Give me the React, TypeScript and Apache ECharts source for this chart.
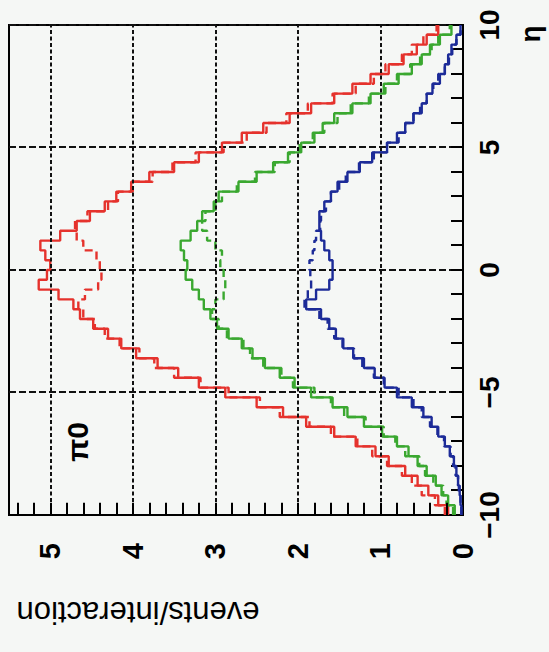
import React, { useEffect, useRef } from "react";
import * as echarts from "echarts";

// Pseudorapidity binning of the histograms (bin width 0.4, from -10 to 10)
const ETA_MIN = -10;
const ETA_MAX = 10;
const BIN_WIDTH = 0.4;

// pi0 multiplicity per unit pseudorapidity, three energy samples,
// solid = model A, dashed = model B
const redSolid = [
  0.18, 0.3, 0.42, 0.55, 0.7, 0.9, 1.06, 1.3, 1.56, 1.9,
  2.18, 2.5, 2.88, 3.2, 3.45, 3.7, 3.96, 4.14, 4.3, 4.48,
  4.64, 4.72, 4.9, 5.14, 5.04, 5.0, 5.06, 5.12, 4.88, 4.68,
  4.52, 4.34, 4.2, 4.02, 3.8, 3.5, 3.2, 2.92, 2.68, 2.42,
  2.1, 1.84, 1.56, 1.34, 1.12, 0.9, 0.72, 0.56, 0.44, 0.3,
];
const redDashed = [
  0.22, 0.34, 0.5, 0.62, 0.74, 0.92, 1.1, 1.28, 1.6, 1.86,
  2.22, 2.46, 2.84, 3.18, 3.5, 3.74, 3.92, 4.16, 4.34, 4.46,
  4.6, 4.66, 4.58, 4.42, 4.38, 4.4, 4.44, 4.6, 4.68, 4.7,
  4.55, 4.3, 4.18, 4.0, 3.76, 3.52, 3.24, 2.9, 2.62, 2.38,
  2.14, 1.88, 1.58, 1.3, 1.08, 0.94, 0.74, 0.62, 0.48, 0.32,
];
const greenSolid = [
  0.1, 0.18, 0.26, 0.33, 0.44, 0.55, 0.66, 0.8, 0.98, 1.2,
  1.4, 1.58, 1.84, 2.04, 2.22, 2.4, 2.55, 2.68, 2.84, 2.98,
  3.06, 3.14, 3.2, 3.28, 3.36, 3.34, 3.38, 3.42, 3.3, 3.22,
  3.16, 3.02, 2.96, 2.72, 2.5, 2.3, 2.12, 1.96, 1.8, 1.7,
  1.56, 1.34, 1.12, 0.96, 0.78, 0.62, 0.5, 0.4, 0.28, 0.14,
];
const greenDashed = [
  0.12, 0.2, 0.24, 0.36, 0.46, 0.53, 0.7, 0.82, 0.96, 1.18,
  1.44, 1.6, 1.8, 2.06, 2.2, 2.42, 2.58, 2.66, 2.86, 2.96,
  3.04, 3.0, 2.9, 2.88, 2.9, 2.94, 2.92, 3.0, 3.1, 3.16,
  3.12, 3.0, 2.92, 2.74, 2.52, 2.28, 2.1, 1.98, 1.82, 1.68,
  1.52, 1.36, 1.14, 0.94, 0.8, 0.64, 0.52, 0.38, 0.3, 0.16,
];
const blueSolid = [
  0.02, 0.03, 0.04, 0.06, 0.08, 0.11, 0.16, 0.22, 0.3, 0.38,
  0.48, 0.62, 0.8, 0.95, 1.07, 1.2, 1.33, 1.45, 1.54, 1.62,
  1.72, 1.9, 1.78, 1.62, 1.58, 1.58, 1.62, 1.68, 1.72, 1.74,
  1.74, 1.68, 1.6, 1.52, 1.4, 1.25, 1.1, 0.92, 0.8, 0.7,
  0.6, 0.5, 0.44, 0.37, 0.28, 0.22, 0.18, 0.14, 0.08, 0.03,
];
const blueDashed = [
  0.02, 0.03, 0.05, 0.06, 0.09, 0.12, 0.15, 0.23, 0.31, 0.4,
  0.5, 0.6, 0.78, 0.96, 1.08, 1.22, 1.32, 1.46, 1.56, 1.64,
  1.74, 1.92, 1.88, 1.84, 1.85, 1.86, 1.82, 1.8, 1.78, 1.73,
  1.72, 1.66, 1.6, 1.5, 1.42, 1.26, 1.08, 0.92, 0.78, 0.7,
  0.6, 0.52, 0.44, 0.36, 0.3, 0.22, 0.17, 0.13, 0.08, 0.03,
];

const etaTicks = [-10, -5, 0, 5, 10];
const yTicks = [0, 1, 2, 3, 4, 5];
const yGridValues = [1, 2, 3, 4, 5];
const Y_MAX = 5.5;
const Y_FINE_STEP = 0.2;
// small ticks along the multiplicity axis, every 0.2 up to the frame
const yFineTicks = Array.from(
  { length: Math.floor(Y_MAX / Y_FINE_STEP) },
  (_, i) => Math.round((i + 1) * Y_FINE_STEP * 10) / 10
);
// inward length of those ticks, in units of eta (about 12 px)
const Y_TICK_ETA_LEN = 0.5;

const RED = "#e5322c";
const GREEN = "#3aa830";
const BLUE = "#1c2b98";

const FONT = "'Liberation Sans', Arial, Helvetica, sans-serif";
const TICK_LEN = 12;

// histogram outline: one point per left bin edge, closed at the last edge
function histogram(values: number[]): number[][] {
  const pts = values.map((v, i) => [ETA_MIN + i * BIN_WIDTH, v]);
  pts.push([ETA_MAX, values[values.length - 1]]);
  return pts;
}

function stepSeries(name: string, values: number[], color: string, dashed: boolean) {
  return {
    name,
    type: "line",
    step: "end",
    data: histogram(values),
    showSymbol: false,
    symbol: "none",
    clip: true,
    lineStyle: {
      color,
      width: 2.4,
      type: dashed ? [8, 5] : "solid",
    },
    z: dashed ? 3 : 4,
  };
}

export default function App() {
  const ref = useRef<HTMLDivElement>(null);

  useEffect(() => {
    if (!ref.current) return;
    const chart = echarts.init(ref.current, undefined, { renderer: "svg" });

    const axisBlack = { color: "#000", width: 2 };

    chart.setOption({
      animation: false,
      backgroundColor: "transparent",
      grid: {
        left: 137,
        right: 25,
        top: 9,
        bottom: 86,
        show: true,
        borderColor: "#000",
        borderWidth: 2,
        backgroundColor: "transparent",
      },
      xAxis: {
        type: "value",
        min: ETA_MIN,
        max: ETA_MAX,
        interval: 5,
        axisLine: { show: true, onZero: false, lineStyle: axisBlack },
        axisTick: { show: true, inside: true, length: TICK_LEN, lineStyle: axisBlack },
        minorTick: { show: true, splitNumber: 5, length: TICK_LEN, lineStyle: axisBlack },
        splitLine: {
          show: true,
          lineStyle: { color: "#111", width: 2, type: [7, 3] },
        },
        axisLabel: {
          margin: 12,
          fontSize: 28,
          fontWeight: "bold",
          fontFamily: FONT,
          color: "#000",
          customValues: etaTicks,
          formatter: (v: number) => (v < 0 ? "\u2212" + Math.abs(v) : String(v)),
        },
      },
      yAxis: {
        type: "value",
        min: 0,
        max: Y_MAX,
        interval: 1,
        position: "left",
        axisLine: { show: true, onZero: false, lineStyle: axisBlack },
        axisTick: { show: false },
        splitLine: { show: false },
        axisLabel: {
          margin: 28,
          fontSize: 29,
          fontWeight: "bold",
          fontFamily: FONT,
          color: "#000",
          customValues: yTicks,
          formatter: (v: number) => String(v),
        },
      },
      graphic: [
        {
          type: "text",
          x: 40,
          y: 138,
          rotation: Math.PI / 2,
          style: {
            text: "events/interaction",
            fontSize: 31,
            fontFamily: FONT,
            fill: "#000",
            textAlign: "center",
            textVerticalAlign: "middle",
          },
        },
        {
          type: "text",
          x: 618,
          y: 530,
          style: {
            text: "\u03b7",
            fontSize: 28,
            fontWeight: "bold",
            fontFamily: FONT,
            fill: "#000",
            textAlign: "center",
            textVerticalAlign: "middle",
          },
        },
        {
          type: "text",
          x: 210,
          y: 77,
          style: {
            text: "\u03c00",
            fontSize: 30,
            fontWeight: "bold",
            fontFamily: FONT,
            fill: "#000",
            textAlign: "center",
            textVerticalAlign: "middle",
          },
        },
      ],
      series: [
        {
          // dashed reference lines at whole multiplicities
          name: "grid",
          type: "line",
          data: [],
          silent: true,
          z: 1,
          markLine: {
            silent: true,
            symbol: "none",
            label: { show: false },
            lineStyle: { color: "#111", width: 2, type: [4, 2.5] },
            data: yGridValues.map((v) => ({ yAxis: v })),
          },
        },
        {
          // inward ticks on the multiplicity axis
          name: "yticks",
          type: "line",
          data: [],
          silent: true,
          z: 5,
          markLine: {
            silent: true,
            symbol: "none",
            label: { show: false },
            lineStyle: { color: "#000", width: 2, type: "solid" },
            data: yFineTicks.map((v) => [
              { coord: [ETA_MIN, v] },
              { coord: [ETA_MIN + Y_TICK_ETA_LEN, v] },
            ]),
          },
        },
        stepSeries("red B", redDashed, RED, true),
        stepSeries("green B", greenDashed, GREEN, true),
        stepSeries("blue B", blueDashed, BLUE, true),
        stepSeries("red A", redSolid, RED, false),
        stepSeries("green A", greenSolid, GREEN, false),
        stepSeries("blue A", blueSolid, BLUE, false),
      ],
    });

    return () => chart.dispose();
  }, []);

  return (
    <div
      style={{
        position: "fixed",
        left: 0,
        top: 0,
        width: 549,
        height: 652,
        overflow: "hidden",
        background: "#f5f7f5",
      }}
    >
      <div
        ref={ref}
        style={{
          position: "absolute",
          left: 0,
          top: 0,
          width: 652,
          height: 549,
          transformOrigin: "0 0",
          transform: "translate(0px, 652px) rotate(-90deg)",
        }}
      />
    </div>
  );
}
